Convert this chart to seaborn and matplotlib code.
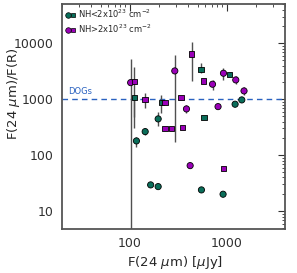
import numpy as np
import pandas as pd
import seaborn as sns
import matplotlib
matplotlib.use('Agg')
import matplotlib.pyplot as plt
from matplotlib.lines import Line2D
from matplotlib.legend_handler import HandlerTuple

# точки с NH < 2x10^23 (зелёные)
g_circ_x = [117, 144, 196, 164, 196, 548, 916, 1219, 1429]
g_circ_y = [180, 264, 445, 29.5, 27.5, 24, 20.1, 814, 972]
g_circ_lo = [140, 230, 334, np.nan, np.nan, np.nan, np.nan, np.nan, np.nan]
g_circ_hi = [215, 300, 590, np.nan, np.nan, np.nan, np.nan, np.nan, np.nan]

g_sq_x = [111, 212, 540, 583, 1074]
g_sq_y = [1086, 884, 3434, 469, 2795]
g_sq_lo = [489, 576, 2990, np.nan, np.nan]
g_sq_hi = [1200, 1193, 4390, np.nan, np.nan]

# точки с NH > 2x10^23 (фиолетовые)
p_circ_x = [102, 291, 384, 419, 713, 813, 925, 1239, 1507]
p_circ_y = [1979, 3202, 671, 65.2, 1853, 738, 2912, 2212, 1407]
p_circ_lo = [1, 175, 560, np.nan, 1465, np.nan, 2210, 1900, 1200]
p_circ_hi = [5250, 6170, 800, np.nan, 2210, np.nan, 3620, 2600, 1650]

p_sq_x = [111, 143, 230, 231, 269, 336, 349, 433, 575, 925]
p_sq_y = [2060, 1000, 884, 303, 303, 1068, 316, 6440, 2123, 58.6]
p_sq_lo = [307, 699, np.nan, np.nan, np.nan, np.nan, np.nan, 2150, np.nan, np.nan]
p_sq_hi = [3820, 1310, np.nan, np.nan, np.nan, np.nan, np.nan, 10670, np.nan, np.nan]

dog_level = 1000
legend_labels = ['NH<2x10$^{23}$ cm$^{-2}$', 'NH>2x10$^{23}$ cm$^{-2}$']

green = '#0a6e5a'
purple = '#9a00b8'


def make_df(x, y, lo, hi, group, kind):
    return pd.DataFrame({'x': x, 'y': y, 'lo': lo, 'hi': hi, 'group': group, 'kind': kind})


df = pd.concat([
    make_df(g_circ_x, g_circ_y, g_circ_lo, g_circ_hi, 'low', 'circle'),
    make_df(g_sq_x, g_sq_y, g_sq_lo, g_sq_hi, 'low', 'square'),
    make_df(p_circ_x, p_circ_y, p_circ_lo, p_circ_hi, 'high', 'circle'),
    make_df(p_sq_x, p_sq_y, p_sq_lo, p_sq_hi, 'high', 'square'),
], ignore_index=True)

sns.set_style('white')
plt.rcParams['font.family'] = ['DejaVu Sans']
plt.rcParams['mathtext.fontset'] = 'dejavusans'

fig = plt.figure(figsize=(2.97, 2.73), dpi=100)
ax = fig.add_axes([0.209, 0.161, 0.751, 0.824])

# ошибки
err = df.dropna(subset=['lo'])
ax.errorbar(err.x, err.y, yerr=[err.y - err.lo, err.hi - err.y], fmt='none',
            ecolor='#505050', elinewidth=1.0, capsize=0, zorder=2)

ax.axhline(dog_level, color='#2a62c0', ls=(0, (4, 3)), lw=1.0, zorder=1)
ax.text(23, dog_level * 1.12, 'DOGs', color='#2a62c0', fontsize=6, va='bottom', ha='left')

pal = {'low': green, 'high': purple}
sns.scatterplot(data=df[df.kind == 'circle'], x='x', y='y', hue='group', palette=pal,
                marker='o', s=20, edgecolor='black', linewidth=0.6, legend=False, ax=ax, zorder=3)
sns.scatterplot(data=df[df.kind == 'square'], x='x', y='y', hue='group', palette=pal,
                marker='s', s=15, edgecolor='black', linewidth=0.6, legend=False, ax=ax, zorder=3)

ax.set_xscale('log')
ax.set_yscale('log')
ax.set_xlim(20, 4000)
ax.set_ylim(4.8, 50000)
ax.set_xticks([100, 1000])
ax.set_xticklabels(['100', '1000'])
ax.set_yticks([10, 100, 1000, 10000])
ax.set_yticklabels(['10', '100', '1000', '10000'])
ax.tick_params(which='both', direction='in', top=True, right=True, labelsize=9, colors='#303030')
ax.tick_params(which='major', length=5, width=0.8, pad=6)
ax.tick_params(which='minor', length=2.5, width=0.6)
for s in ax.spines.values():
    s.set_color('#555555')
    s.set_linewidth(1.3)

ax.set_xlabel(r'F(24 $\mu$m) [$\mu$Jy]', fontsize=9.5)
ax.set_ylabel(r'F(24 $\mu$m)/F(R)', fontsize=9.5)
ax.xaxis.set_label_coords(0.507, -0.11)
ax.yaxis.set_label_coords(-0.18, 0.6)

h1 = (Line2D([], [], marker='o', ls='', color=green, mec='black', mew=0.5, ms=4),
      Line2D([], [], marker='s', ls='', color=green, mec='black', mew=0.5, ms=3.5))
h2 = (Line2D([], [], marker='o', ls='', color=purple, mec='black', mew=0.5, ms=4),
      Line2D([], [], marker='s', ls='', color=purple, mec='black', mew=0.5, ms=3.5))
ax.legend([h1, h2], legend_labels, handler_map={tuple: HandlerTuple(ndivide=None, pad=0.1)},
          loc='upper left', frameon=False, fontsize=6, handlelength=1.2, handletextpad=0.3,
          labelspacing=0.35, borderaxespad=0.1, borderpad=0.3)

fig.savefig('out.png', dpi=100)
